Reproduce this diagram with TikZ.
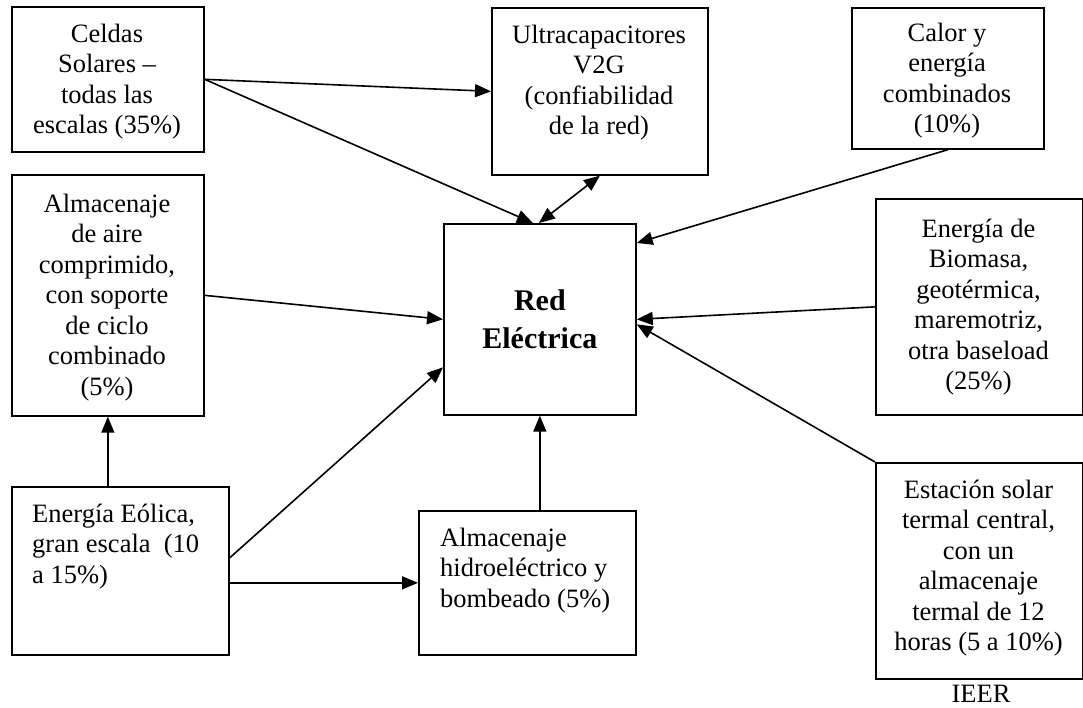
\documentclass[tikz,border=0pt]{standalone}
\usepackage{fontspec}
\setmainfont{Liberation Serif}
\usetikzlibrary{arrows.meta,calc}
\begin{document}
\begin{tikzpicture}[x=1pt,y=-1pt,
  box/.style args={#1x#2}{draw,line width=1.7pt,inner sep=0pt,minimum width=#1pt,minimum height=#2pt,anchor=north west},
  txt/.style={font=\fontsize{26.5}{30.5}\selectfont,align=center,inner sep=0pt,anchor=north},
  ltxt/.style={font=\fontsize{26.5}{30.5}\selectfont,align=left,inner sep=0pt,anchor=north west},
  conn/.style={line width=1.6pt,-{Triangle[length=16pt,width=13pt]}},
  biconn/.style={line width=1.6pt,{Triangle[length=16pt,width=13pt]}-{Triangle[length=16pt,width=13pt]}}]
\useasboundingbox (0,0) rectangle (1083,708);
\fill[white] (0,0) rectangle (1083,708);
% boxes
\node[box=192x145] (cel) at (11,6) {};
\node[box=216x167] (ult) at (491,7) {};
\node[box=192x141] (cal) at (851,7) {};
\node[box=192x241] (aire) at (11,174) {};
\node[box=192x191] (red) at (443,223) {};
\node[box=207x216] (bio) at (875,198) {};
\node[box=207x216] (est) at (875,462) {};
\node[box=217x168] (eol) at (11,486) {};
\node[box=217x144] (hid) at (418,510) {};
% texts
\node[txt] (celt) at (107,20.6) {\strut Celdas\\Solares –\\todas las\\escalas (35\%)};
\node[txt] (ultt) at (599,21.6) {\strut Ultracapacitores\\V2G\\(confiabilidad\\de la red)};
\node[txt] (calt) at (947,19.6) {\strut Calor y\\energía\\combinados\\(10\%)};
\node[txt] (airet) at (107,190.6) {\strut Almacenaje\\de aire\\comprimido,\\con soporte\\de ciclo\\combinado\\(5\%)};
\node[txt] (biot) at (978.5,215.6) {\strut Energía de\\Biomasa,\\geotérmica,\\maremotriz,\\otra baseload\\(25\%)};
\node[txt] (estt) at (978.5,476.6) {\strut Estación solar\\termal central,\\con un\\almacenaje\\termal de 12\\horas (5 a 10\%)};
\node[ltxt] (eolt) at (32,500.6) {\strut Energía Eólica,\\gran escala\ \ (10\\a 15\%)};
\node[ltxt] (hidt) at (440,524.6) {\strut Almacenaje\\hidroeléctrico y\\bombeado (5\%)};
\node[font=\fontsize{30}{38}\selectfont\bfseries,align=center,inner sep=0pt] (redt) at (red.center) {Red\\Eléctrica};
\node[font=\fontsize{26.5}{30.5}\selectfont,inner sep=0pt,anchor=base] (ieer) at (981,702) {IEER};
% connectors
\draw[conn] (cel.east) -- (ult.west);
\draw[conn] (cel.east) -- ([xshift=-7pt]red.north);
\draw[biconn] (ult.south) -- ([xshift=-1pt]red.north);
\draw[conn] (cal.south) -- ($(red.north east)+(0,20)$);
\draw[conn] (aire.east) -- (red.west);
\draw[conn] (bio.west) -- (red.east);
\draw[conn] (est.north west) -- ($(red.east)+(0,5)$);
\draw[conn] ($(eol.east)+(0,-13)$) -- ($(red.west)+(0,48)$);
\draw[conn] (eol.east |- hid.west) -- (hid.west);
\draw[conn] (aire.south |- eol.north) -- (aire.south);
\draw[conn] (red.south |- hid.north) -- (red.south);
\end{tikzpicture}
\end{document}
